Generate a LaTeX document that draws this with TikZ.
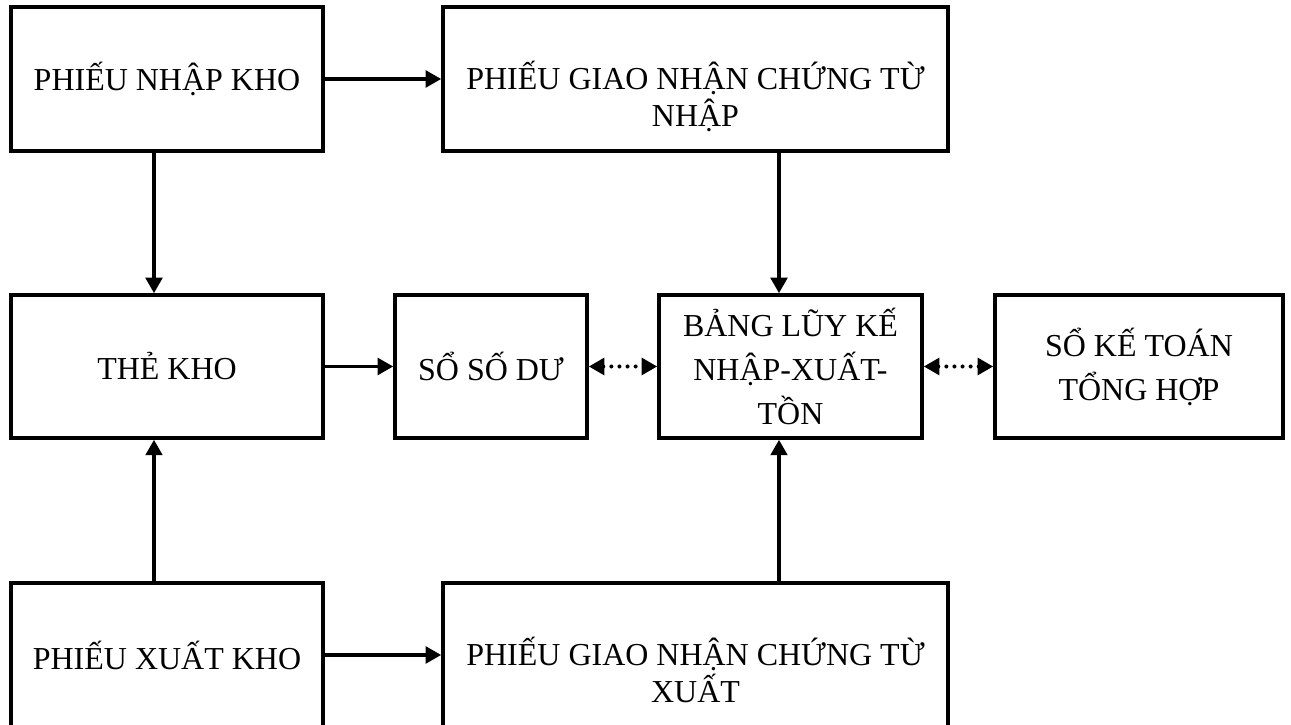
\documentclass[tikz,border=0pt]{standalone}
\usepackage{fontspec}
\setmainfont{Liberation Serif}
\usepackage{tikz}
\usetikzlibrary{arrows.meta, positioning, calc}
\definecolor{mydark}{RGB}{0,0,0}
\tikzset{
  box/.style={rectangle, draw=mydark, line width=2pt, align=center,
    minimum height=2.88cm, inner sep=2pt,
    font=\fontsize{18.2}{25}\selectfont},
  lbl/.style={align=center, inner sep=0pt, font=\fontsize{18.2}{21}\selectfont},
  arrow/.style={-{Triangle[length=3.1mm, width=3.3mm]}, line width=2pt, color=mydark},
  dotarrow/.style={{Triangle[length=3.1mm, width=3.3mm]}-{Triangle[length=3.1mm, width=3.3mm]},
    line width=2.3pt, dash pattern=on 0pt off 4.6pt, line cap=round, color=mydark}
}

\begin{document}
\begin{tikzpicture}
  \useasboundingbox (0,0) rectangle (25.82,14.5);
  % Top row
  \node[box, minimum width=6.24cm] (pnk) at (3.34,12.92) {PHIẾU NHẬP KHO};
  \node[box, minimum width=10.10cm] (gnn) at (13.91,12.92) {};
  \node[lbl, anchor=base] (gnntext) at ([yshift=-0.95cm]gnn.center) {PHIẾU GIAO NHẬN CHỨNG TỪ\\NHẬP};
  % Middle row
  \node[box, minimum width=6.24cm, minimum height=2.86cm] (thekho) at (3.34,7.17) {THẺ KHO};
  \node[box, minimum width=3.84cm, minimum height=2.86cm] (sodu) at (9.82,7.17) {SỔ SỐ DƯ};
  \node[box, minimum width=5.26cm, minimum height=2.86cm] (bangluyke) at (15.81,7.17) {BẢNG LŨY KẾ\\NHẬP-XUẤT-\\TỒN};
  \node[box, minimum width=5.76cm, minimum height=2.86cm] (sokt) at (22.78,7.17) {SỔ KẾ TOÁN\\TỔNG HỢP};
  % Bottom row
  \node[box, minimum width=6.24cm] (pxk) at (3.34,1.40) {PHIẾU XUẤT KHO};
  \node[box, minimum width=10.10cm] (gnx) at (13.91,1.40) {};
  \node[lbl, anchor=base] (gnxtext) at ([yshift=-0.95cm]gnx.center) {PHIẾU GIAO NHẬN CHỨNG TỪ\\XUẤT};
  % Vertical lines
  \coordinate (kx) at ([xshift=-2.6mm]thekho.center);
  \coordinate (bx) at ([xshift=-2.3mm]bangluyke.center);
  \draw[arrow] (kx |- pnk.south) -- (kx |- thekho.north);
  \draw[arrow] (kx |- pxk.north) -- (kx |- thekho.south);
  \draw[arrow] (bx |- gnn.south) -- (bx |- bangluyke.north);
  \draw[arrow] (bx |- gnx.north) -- (bx |- bangluyke.south);
  % Horizontal lines
  \draw[arrow] (pnk.east) -- (gnn.west);
  \draw[arrow] (pxk.east) -- (gnx.west);
  \draw[arrow] (thekho.east) -- (sodu.west);
  \draw[dotarrow] (sodu.east) -- (bangluyke.west);
  \draw[dotarrow] (bangluyke.east) -- (sokt.west);
\end{tikzpicture}
\end{document}
